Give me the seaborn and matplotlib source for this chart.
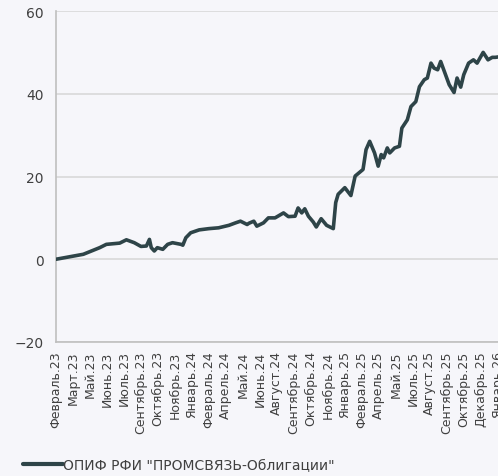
import matplotlib
matplotlib.use("Agg")
import matplotlib.pyplot as plt
import pandas as pd
import seaborn as sns

# trading-day index and fund return, %
DAYS = [0, 45, 72, 83, 105, 116, 129, 140, 149, 154, 157, 162, 167, 176, 184,
        192, 206, 209, 214, 222, 236, 252, 268, 285, 296, 304, 315, 318, 326,
        331, 342, 350, 361, 375, 383, 394, 399, 405, 410, 416, 424, 429, 437,
        446, 457, 461, 465, 476, 486, 493, 506, 511, 517, 525, 531, 536, 540,
        546, 550, 558, 566, 570, 579, 585, 593, 599, 607, 612, 618, 623, 629,
        634, 642, 648, 656, 661, 667, 672, 680, 688, 694, 704, 712, 719, 724,
        734]
RETURN = [0.0, 1.2, 2.8, 3.6, 3.9, 4.7, 4.0, 3.1, 3.2, 4.8, 2.8, 2.0, 2.8, 2.4,
          3.6, 4.0, 3.6, 3.4, 5.2, 6.4, 7.1, 7.4, 7.6, 8.2, 8.8, 9.2, 8.4, 8.7,
          9.2, 8.0, 8.8, 10.0, 10.0, 11.2, 10.3, 10.4, 12.4, 11.2, 12.2, 10.4,
          9.0, 7.8, 9.8, 8.2, 7.4, 13.7, 15.7, 17.3, 15.4, 20.1, 21.7, 26.5,
          28.5, 25.7, 22.5, 25.3, 24.5, 26.9, 25.7, 26.9, 27.3, 31.7, 33.7,
          36.9, 38.1, 41.7, 43.4, 43.8, 47.4, 46.2, 45.8, 47.8, 44.6, 42.2,
          40.3, 43.8, 41.6, 44.6, 47.4, 48.2, 47.4, 50.0, 48.2, 48.8, 48.8,
          49.0]

TICK_LABELS = ["Февраль.23", "Март.23", "Май.23", "Июнь.23", "Июль.23",
               "Сентябрь.23", "Октябрь.23", "Ноябрь.23", "Январь.24",
               "Февраль.24", "Апрель.24", "Май.24", "Июнь.24", "Август.24",
               "Сентябрь.24", "Октябрь.24", "Ноябрь.24", "Январь.25",
               "Февраль.25", "Апрель.25", "Май.25", "Июль.25", "Август.25",
               "Сентябрь.25", "Октябрь.25", "Декабрь.25", "Январь.26"]
TICK_STEP = 28
SERIES = 'ОПИФ РФИ "ПРОМСВЯЗЬ-Облигации"'

BG = "#F6F6FA"
LINE = "#2E4448"
GRID = "#D9D9D9"
TEXT = "#404040"

sns.set_style("white", {"axes.facecolor": BG, "figure.facecolor": BG})
plt.rcParams["font.family"] = ["DejaVu Sans"]

df = pd.DataFrame({"day": DAYS, "value": RETURN, "fund": SERIES})

fig = plt.figure(figsize=(4.98, 4.77), dpi=100)
ax = fig.add_axes([56 / 498, 1 - 343 / 477, 449 / 498, 331 / 477])

sns.lineplot(data=df, x="day", y="value", hue="fund", palette=[LINE],
             linewidth=2.6, ax=ax, legend=False, zorder=3)

ax.set_xlim(0, 740)
ax.set_ylim(-20, 60)
ax.set_yticks([-20, 0, 20, 40, 60])
ax.set_xticks([i * TICK_STEP for i in range(len(TICK_LABELS))])
ax.set_xticklabels(TICK_LABELS, rotation=90, fontsize=9, color=TEXT)
ax.tick_params(axis="y", labelsize=10, colors=TEXT, length=0, pad=9)
ax.tick_params(axis="x", direction="in", length=3, color=GRID, pad=6)
ax.grid(axis="y", color=GRID, linewidth=1.2)
ax.set_xlabel("")
ax.set_ylabel("")
for side in ["top", "right"]:
    ax.spines[side].set_visible(False)
ax.spines["left"].set_color("#BFBFBF")
ax.spines["bottom"].set_color("#BFBFBF")
ax.spines["left"].set_linewidth(1.2)
ax.spines["bottom"].set_linewidth(1.2)

handle = plt.Line2D([], [], color=LINE, linewidth=3)
fig.legend([handle], [SERIES], loc="center left",
           bbox_to_anchor=(10 / 498, 1 - 466 / 477), frameon=False,
           handlelength=2.9, handletextpad=0.0, fontsize=10,
           labelcolor=TEXT)

fig.savefig("out.png", dpi=100, facecolor=BG)
